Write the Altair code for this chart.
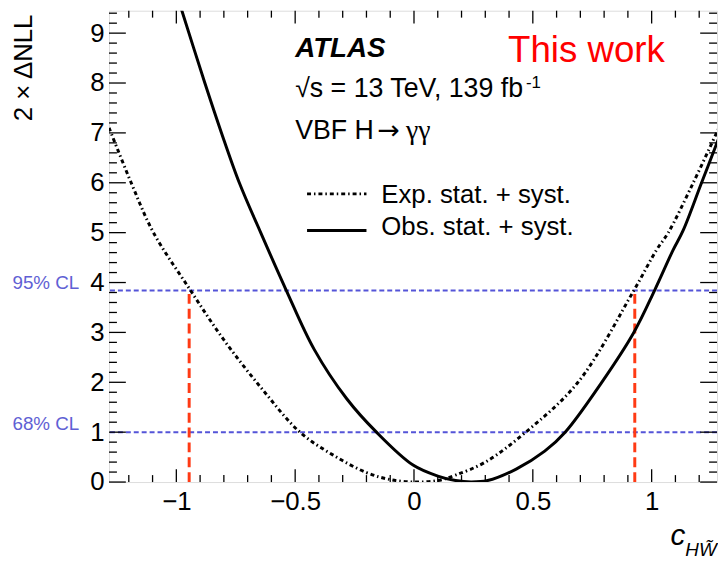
import altair as alt
import pandas as pd

FONT = "Liberation Sans"
W, H = 614, 476

# ---- data ----
obs_x = [-1.02, -0.98, -0.88, -0.81, -0.735, -0.645, -0.537, -0.42, -0.283, -0.158, -0.004,
         0.10, 0.175, 0.24, 0.31, 0.43, 0.55, 0.636, 0.79, 0.925, 1.012, 1.09, 1.133, 1.21, 1.283]
obs_y = [10.1, 9.5, 8.0, 7.0, 6.0, 5.0, 3.84, 2.66, 1.67, 1.0, 0.34,
         0.12, 0.03, 0.0, 0.03, 0.26, 0.62, 1.0, 2.0, 3.0, 3.84, 4.65, 5.05, 6.0, 6.9]

exp_x = [-1.283, -1.19, -1.096, -0.94, -0.80, -0.64, -0.48, -0.34, -0.20, -0.10, 0.0,
         0.1, 0.175, 0.30, 0.47, 0.69, 0.925, 1.02, 1.07, 1.175, 1.283]
exp_y = [7.1, 6.0, 5.0, 3.84, 2.85, 1.87, 1.0, 0.54, 0.19, 0.05, 0.0,
         0.03, 0.14, 0.40, 1.0, 2.0, 3.84, 4.65, 5.0, 6.0, 7.1]

cl_values = [3.84, 1.0]
cl_labels = ["95% CL", "68% CL"]
limit_x = [-0.946, 0.929]
limit_lo = [0.0, 0.0]
limit_hi = [3.84, 3.84]

x_major = [-1, -0.5, 0, 0.5, 1]
x_minor = [-1.2, -1.1, -0.9, -0.8, -0.7, -0.6, -0.4, -0.3, -0.2, -0.1,
           0.1, 0.2, 0.3, 0.4, 0.6, 0.7, 0.8, 0.9, 1.1, 1.2]
y_major = [0, 1, 2, 3, 4, 5, 6, 7, 8, 9]
y_minor = [round(i * 0.2, 1) for i in range(48) if i % 5]

legend_labels = ["Exp. stat. + syst.", "Obs. stat. + syst."]

XDOM = [-1.2833, 1.275]
YDOM = [0, 9.45]

xs = alt.Scale(domain=XDOM, nice=False, zero=False)
ys = alt.Scale(domain=YDOM, nice=False, zero=False)

BLUE = "#5454d8"
RED = "#ff3a14"
DASHDOT = [4, 3, 1.5, 3]

x_axis = alt.Axis(values=x_major, format="~g", labelFontSize=26, labelFont=FONT, ticks=False,
                  domain=False, grid=False, title=None, labelPadding=7, labelColor="black",
                  labelFlush=False, labelOverlap=False)
y_axis = alt.Axis(values=y_major, format="d", labelFontSize=26, labelFont=FONT, ticks=False,
                  domain=False, grid=False, title=None, labelPadding=5, labelColor="black",
                  labelOverlap=False)

obs_df = pd.DataFrame({"x": obs_x, "y": obs_y})
exp_df = pd.DataFrame({"x": exp_x, "y": exp_y})

base_axes = alt.Chart(pd.DataFrame({"x": [0.0], "y": [0.0]})).mark_point(opacity=0).encode(
    x=alt.X("x:Q", scale=xs, axis=x_axis),
    y=alt.Y("y:Q", scale=ys, axis=y_axis),
)

cl_df = pd.DataFrame({"y": cl_values, "t": cl_labels})
cl_lines = alt.Chart(cl_df).mark_rule(color=BLUE, strokeWidth=2, strokeDash=[5, 3]).encode(
    y=alt.Y("y:Q", scale=ys))
cl_text = alt.Chart(cl_df).mark_text(align="right", baseline="alphabetic", fontSize=19,
                                     font=FONT, color="#5f5fd4", dy=-2).encode(
    y=alt.Y("y:Q", scale=ys), x=alt.value(-30), text="t:N")

lim_df = pd.DataFrame({"x": limit_x, "y0": limit_lo, "y1": limit_hi})
lim_lines = alt.Chart(lim_df).mark_rule(color=RED, strokeWidth=3, strokeDash=[10, 5]).encode(
    x=alt.X("x:Q", scale=xs), y=alt.Y("y0:Q", scale=ys), y2="y1:Q")

exp_line = alt.Chart(exp_df).mark_line(color="black", strokeWidth=3, strokeDash=DASHDOT,
                                       interpolate="catmull-rom", clip=True).encode(
    x=alt.X("x:Q", scale=xs), y=alt.Y("y:Q", scale=ys))
obs_line = alt.Chart(obs_df).mark_line(color="black", strokeWidth=3,
                                       interpolate="catmull-rom", clip=True).encode(
    x=alt.X("x:Q", scale=xs), y=alt.Y("y:Q", scale=ys))


def xticks(vals, L):
    d = pd.DataFrame({"x": vals})
    bot = alt.Chart(d).mark_rule(color="black", strokeWidth=1.3).encode(
        x=alt.X("x:Q", scale=xs), y=alt.value(H), y2=alt.value(H - L))
    top = alt.Chart(d).mark_rule(color="black", strokeWidth=1.3).encode(
        x=alt.X("x:Q", scale=xs), y=alt.value(0), y2=alt.value(L))
    return [bot, top]


def yticks(vals, L):
    d = pd.DataFrame({"y": vals})
    left = alt.Chart(d).mark_rule(color="black", strokeWidth=1.3).encode(
        y=alt.Y("y:Q", scale=ys), x=alt.value(0), x2=alt.value(L))
    right = alt.Chart(d).mark_rule(color="black", strokeWidth=1.3).encode(
        y=alt.Y("y:Q", scale=ys), x=alt.value(W), x2=alt.value(W - L))
    return [left, right]


def txt(s, x, y, size, color="black", style="normal", weight="normal",
        align="left", baseline="alphabetic", angle=0, font=FONT):
    return alt.Chart(pd.DataFrame({"t": [s]})).mark_text(
        align=align, baseline=baseline, fontSize=size, font=font, color=color,
        fontStyle=style, fontWeight=weight, angle=angle).encode(
        x=alt.value(x), y=alt.value(y), text="t:N")


texts = [
    txt("ATLAS", 188, 47, 28, style="italic", weight="bold"),
    txt("This work", 403, 52, 37, color="#ff0000"),
    txt("\u221as = 13 TeV, 139 fb", 188, 87, 27),
    txt("-1", 421, 78, 17),
    txt("VBF H", 188, 130, 27),
    txt("\u2192", 271, 130, 27, font="DejaVu Sans"),
    txt("\u03b3\u03b3", 300, 130, 28, font="Liberation Serif"),
    txt(legend_labels[0], 275, 194, 26),
    txt(legend_labels[1], 275, 227, 26),
    txt("2 \u00d7 \u0394NLL", -86, 4, 26, align="right", baseline="middle", angle=270),
    txt("c", 567, 540, 30, style="italic"),
    txt("HW\u0303", 582, 551, 19, style="italic"),
]

one = pd.DataFrame({"a": [0]})
leg_exp = alt.Chart(one).mark_rule(color="black", strokeWidth=3, strokeDash=DASHDOT).encode(
    x=alt.value(200), x2=alt.value(260), y=alt.value(185))
leg_obs = alt.Chart(one).mark_rule(color="black", strokeWidth=3).encode(
    x=alt.value(200), x2=alt.value(260), y=alt.value(222))

layers = [base_axes, cl_lines, cl_text, lim_lines, exp_line, obs_line]
layers += xticks(x_major, 13) + xticks(x_minor, 7)
layers += yticks(y_major, 17) + yticks(y_minor, 8)
layers += [leg_exp, leg_obs] + texts

chart = alt.layer(*layers).properties(
    width=W, height=H,
    autosize=alt.AutoSizeParams(type="none"),
    padding={"left": 102, "top": 0, "right": 1, "bottom": 76},
).configure_view(stroke="black", strokeWidth=2).configure(background="white")

chart.save("out.html", embed_options={"renderer": "svg", "actions": False})
